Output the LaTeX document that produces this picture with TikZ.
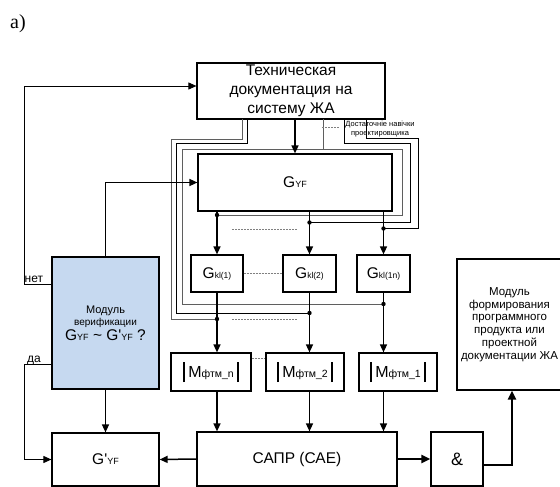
\documentclass[tikz,border=0pt]{standalone}
\usepackage{fontspec}
\setmainfont{Liberation Sans}[Ligatures=TeXOff]
\newfontfamily\seriffont{Liberation Serif}
\usetikzlibrary{arrows.meta}
\definecolor{vblue}{RGB}{198,217,240}
\definecolor{lgray}{RGB}{95,95,95}
\newcommand{\fsz}[2]{\fontsize{#1}{#2}\selectfont}
\newcommand{\Gsub}[1]{{\fsz{15.5}{18}G}{\fsz{9}{11}#1}}
\newcommand{\Gksub}[1]{{\fsz{15.5}{18}G}{\fsz{8.5}{10}#1}}
\newcommand{\Mlab}[1]{\rule[-5pt]{1.8pt}{20pt}\hspace{3pt}{\fsz{16}{18}M}{\fsz{10.5}{12}фтм\_#1}\hspace{3pt}\rule[-5pt]{1.8pt}{20pt}}
\begin{document}
\begin{tikzpicture}[x=1pt,y=-1pt,
  box/.style={draw=black, line width=1.2pt, inner sep=0pt, align=center},
  arr/.style={line width=1.5pt, -{Triangle[length=8pt,width=7pt]}},
  tarr/.style={line width=0.9pt, -{Triangle[length=8pt,width=7pt]}},
  thk/.style={line width=2.5pt, -{Triangle[length=9pt,width=8pt]}},
  bun/.style={line width=0.9pt, draw=black},
  bung/.style={line width=0.9pt, draw=lgray},
  dsh/.style={draw=gray, line width=0.7pt, dash pattern=on 2pt off 1pt},
]
\useasboundingbox (0,0) rectangle (560,487);

% label
\node[font=\seriffont\fsz{20}{24}, inner sep=0pt] (lbl) at (18,24) {a)};

% boxes
\node[box, minimum width=188pt, minimum height=56pt, font=\fsz{15.5}{19}] (tech) at (291,91) {Техническая\\документация на\\систему ЖА};
\node[box, minimum width=194pt, minimum height=57pt] (gyf) at (295,182.5) {\Gsub{YF}};
\node[box, minimum width=52pt, minimum height=37pt] (g1) at (217,273.5) {\Gksub{kl(1)}};
\node[box, minimum width=53pt, minimum height=37pt] (g2) at (309.5,273.5) {\Gksub{kl(2)}};
\node[box, minimum width=53pt, minimum height=37pt] (g3) at (383.5,273.5) {\Gksub{kl(1n)}};
\node[box, minimum width=80pt, minimum height=38pt] (m1) at (211,372) {\Mlab{n}};
\node[box, minimum width=78pt, minimum height=38pt] (m2) at (305,372) {\Mlab{2}};
\node[box, minimum width=78pt, minimum height=38pt] (m3) at (398,372) {\Mlab{1}};
\node[box, fill=vblue, minimum width=107pt, minimum height=132pt] (verif) at (105.5,323)
  {\fsz{11}{14}Модуль\\верификации\\[1pt]\Gsub{YF}{\fsz{15.5}{18}\ \textasciitilde\ G'}{\fsz{9}{11}YF}{\fsz{15.5}{18}\ ?}};
\node[box, minimum width=107pt, minimum height=53pt] (gp) at (105.5,459.5) {{\fsz{15.5}{18}G'}{\fsz{9}{11}YF}};
\node[box, minimum width=200pt, minimum height=54pt, font=\fsz{15.5}{18}] (sapr) at (297,459) {САПР (САЕ)};
\node[box, minimum width=52pt, minimum height=54pt, font=\fsz{18}{20}] (amp) at (457,459) {\&};
\node[box, minimum width=105pt, minimum height=131pt, font=\fsz{11.5}{12.8}] (form) at (509.5,324.5)
  {Модуль\\формирования\\программного\\продукта или\\проектной\\документации ЖА};

% text labels
\node[font=\fsz{12}{14}, anchor=base west, inner sep=0pt] (net) at (24.5,282) {нет};
\node[font=\fsz{12}{14}, anchor=base west, inner sep=0pt] (da) at (27,362) {да};
\node[font=\fsz{7.5}{9}, align=center, inner sep=0pt] (skill) at (380,129.5) {Достаточніе навічки\\проектировщика};

% junction points
\coordinate (dU1) at (217,215);
\coordinate (dU2) at (309.5,222.5);
\coordinate (dU3) at (383.5,228.5);
\coordinate (dL1) at (217,319);
\coordinate (dL2) at (309.5,313);
\coordinate (dL3) at (383.5,304);
\coordinate (tA) at (242,119);
\coordinate (tB) at (247,119);
\coordinate (tC) at (323,119);
\coordinate (tD) at (344,119);
\coordinate (tE) at (366,119);

% bundle of lines
\draw[bung] (tA) -- (242,139) -- (171,139) -- (171,319) -- (dL1);
\draw[bun] (tB) -- (247,143) -- (176,143) -- (176,313) -- (dL2);
\draw[bung] (tC) -- (323,149);
\draw[bung] (182,149) -- (402,149);
\draw[bung] (182,149) -- (182,304) -- (dL3);
\draw[bung] (402,149) -- (402,215) -- (dU1);
\draw[bun] (tD) -- (344,143) -- (410,143) -- (410,222.5) -- (dU2);
\draw[bun] (tE) -- (366,138) -- (418,138) -- (418,228.5) -- (dU3);

% dashed lines
\draw[dsh] (232,229) -- (297,229);
\draw[dsh] (232,319) -- (297,319);
\draw[dsh] (322,127) -- (340,127);
\draw[dsh] (g1) -- (g2);
\draw[dsh] (m1.east |- 0,358) -- (m2.west |- 0,358);

% main arrows
\draw[arr] (gyf.north |- tech.south) -- (gyf.north);
\foreach \g/\m in {g1/m1, g2/m2, g3/m3}{
  \draw[arr] (\g.north |- gyf.south) -- (\g.north);
  \draw[arr] (\g.south) -- (\g.south |- \m.north);
  \draw[arr] (\g.south |- \m.south) -- (\g.south |- sapr.north);
}
\draw[arr] (verif.north) |- (gyf.west);
\draw[tarr] (verif.west |- 0,284) -- (24,284) |- (tech.west |- 0,86);
\draw[tarr] (verif.west |- 0,364) -- (24,364) |- (gp.west);
\draw[arr] (verif.south) -- (gp.north);
\draw[arr] (sapr.west) -- (gp.east);
\draw[thk] (sapr.east) -- (amp.west);
\draw[thk] (amp.east |- 0,465) -| (form.south -| 512,0);

% dots
\foreach \d in {dU1,dU2,dU3,dL1,dL2,dL3}{ \fill (\d) circle (2.2pt); }
\end{tikzpicture}
\end{document}
